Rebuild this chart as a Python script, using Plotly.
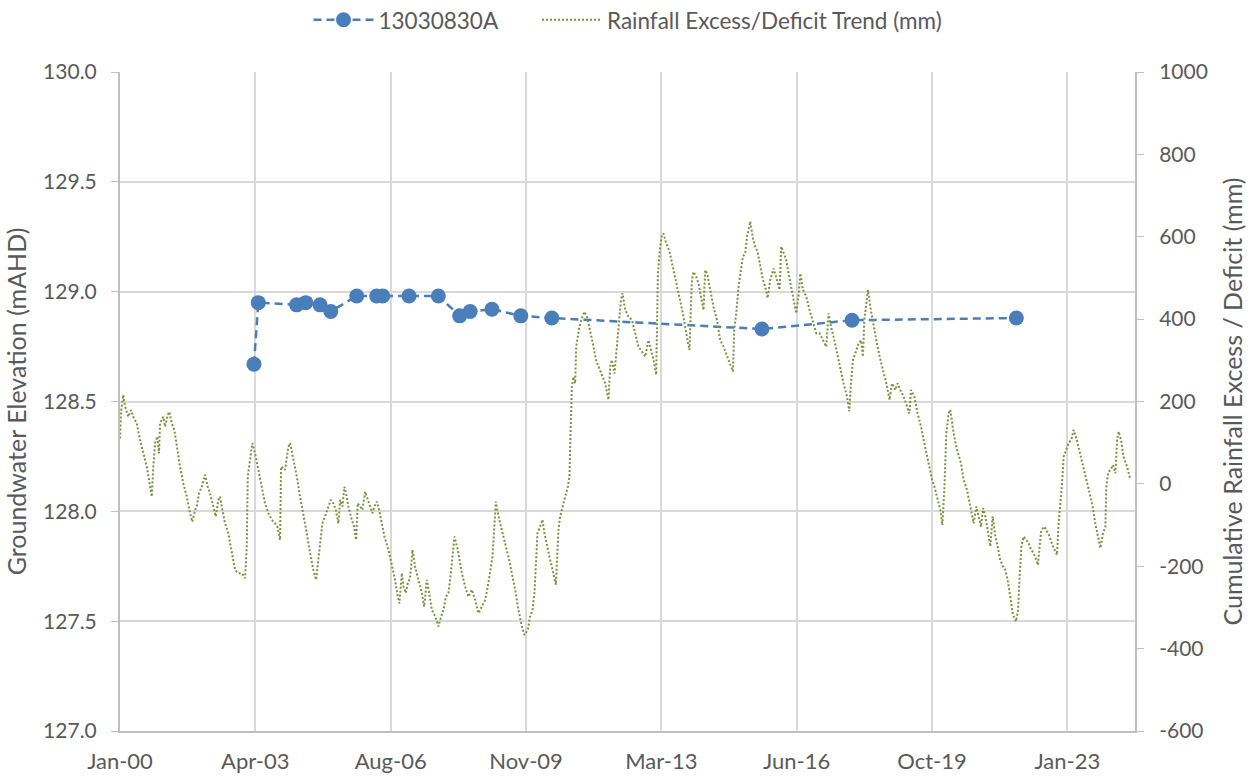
"""
Groundwater elevation vs cumulative rainfall excess/deficit trend.
"""

import numpy as np
import pandas as pd
import plotly.graph_objects as go


THEME = {
    'font_family': "Lato, 'Open Sans', sans-serif",
    'font_color': '#595959',
    'grid_color': '#d9d9d9',
    'axis_color': '#bfbfbf',
    'bore_color': '#4a7ebb',
    'rain_color': '#77933c',
}

# --- bore 13030830A: observation dates and groundwater elevation (mAHD)
bore_dates = [
    '2003-04-16', '2003-05-24', '2004-04-28', '2004-07-18', '2004-11-22',
    '2005-02-25', '2005-10-13', '2006-04-08', '2006-06-01', '2007-01-20',
    '2007-10-07', '2008-04-13', '2008-07-15', '2009-01-24', '2009-10-07',
    '2010-07-09', '2015-08-15', '2017-10-22', '2021-10-18',
]
bore_level = [
    128.67, 128.95, 128.94, 128.95, 128.94,
    128.91, 128.98, 128.98, 128.98, 128.98,
    128.98, 128.89, 128.91, 128.92, 128.89,
    128.88, 128.83, 128.87, 128.88,
]

# --- cumulative rainfall excess/deficit trend (mm), time as decimal year
rain_year = [
    2000.036, 2000.060, 2000.116, 2000.157, 2000.238, 2000.303, 2000.359, 2000.442, 2000.522, 2000.602,
    2000.684, 2000.740, 2000.806, 2000.845, 2000.886, 2000.942, 2000.983, 2001.007, 2001.088, 2001.129,
    2001.194, 2001.233, 2001.292, 2001.355, 2001.413, 2001.493, 2001.573, 2001.656, 2001.736, 2001.792,
    2001.857, 2001.899, 2001.955, 2002.020, 2002.100, 2002.166, 2002.222, 2002.302, 2002.360, 2002.423,
    2002.465, 2002.520, 2002.586, 2002.666, 2002.707, 2002.763, 2002.829, 2002.909, 2002.991, 2003.072,
    2003.113, 2003.137, 2003.193, 2003.249, 2003.314, 2003.395, 2003.477, 2003.557, 2003.637, 2003.720,
    2003.800, 2003.856, 2003.922, 2003.946, 2004.043, 2004.123, 2004.165, 2004.220, 2004.327, 2004.407,
    2004.487, 2004.570, 2004.650, 2004.730, 2004.796, 2004.852, 2004.893, 2004.949, 2005.014, 2005.094,
    2005.153, 2005.216, 2005.274, 2005.337, 2005.379, 2005.435, 2005.483, 2005.524, 2005.580, 2005.663,
    2005.719, 2005.767, 2005.808, 2005.864, 2005.920, 2005.986, 2006.051, 2006.107, 2006.163, 2006.212,
    2006.270, 2006.326, 2006.391, 2006.455, 2006.552, 2006.634, 2006.697, 2006.780, 2006.819, 2006.877,
    2006.916, 2006.974, 2007.023, 2007.079, 2007.135, 2007.200, 2007.280, 2007.363, 2007.419, 2007.484,
    2007.540, 2007.606, 2007.686, 2007.766, 2007.832, 2007.888, 2007.946, 2008.009, 2008.067, 2008.106,
    2008.155, 2008.237, 2008.334, 2008.414, 2008.494, 2008.577, 2008.657, 2008.737, 2008.820, 2008.900,
    2008.966, 2009.021, 2009.077, 2009.119, 2009.160, 2009.223, 2009.306, 2009.386, 2009.466, 2009.548,
    2009.629, 2009.709, 2009.791, 2009.854, 2009.937, 2009.993, 2010.049, 2010.097, 2010.131, 2010.170,
    2010.219, 2010.292, 2010.340, 2010.398, 2010.461, 2010.520, 2010.583, 2010.617, 2010.641, 2010.680,
    2010.721, 2010.777, 2010.843, 2010.908, 2010.947, 2010.964, 2010.989, 2011.006, 2011.045, 2011.086,
    2011.110, 2011.151, 2011.190, 2011.248, 2011.312, 2011.370, 2011.450, 2011.516, 2011.589, 2011.652,
    2011.734, 2011.814, 2011.894, 2011.936, 2011.977, 2012.040, 2012.098, 2012.137, 2012.196, 2012.234,
    2012.300, 2012.380, 2012.463, 2012.543, 2012.623, 2012.706, 2012.786, 2012.866, 2012.924, 2012.988,
    2013.053, 2013.070, 2013.094, 2013.150, 2013.191, 2013.230, 2013.296, 2013.376, 2013.458, 2013.538,
    2013.619, 2013.701, 2013.781, 2013.861, 2013.895, 2013.920, 2013.959, 2014.024, 2014.080, 2014.138,
    2014.201, 2014.242, 2014.298, 2014.364, 2014.444, 2014.527, 2014.607, 2014.687, 2014.753, 2014.833,
    2014.915, 2014.947, 2014.996, 2015.052, 2015.093, 2015.158, 2015.214, 2015.256, 2015.294, 2015.336,
    2015.401, 2015.457, 2015.513, 2015.578, 2015.644, 2015.700, 2015.756, 2015.821, 2015.901, 2015.984,
    2016.047, 2016.088, 2016.144, 2016.209, 2016.265, 2016.348, 2016.404, 2016.452, 2016.508, 2016.550,
    2016.615, 2016.695, 2016.776, 2016.858, 2016.938, 2017.018, 2017.101, 2017.181, 2017.237, 2017.295,
    2017.358, 2017.441, 2017.521, 2017.601, 2017.684, 2017.740, 2017.781, 2017.830, 2017.886, 2017.966,
    2018.024, 2018.073, 2018.104, 2018.153, 2018.194, 2018.250, 2018.316, 2018.396, 2018.476, 2018.559,
    2018.639, 2018.719, 2018.778, 2018.858, 2018.914, 2018.979, 2019.059, 2019.142, 2019.198, 2019.239,
    2019.319, 2019.399, 2019.482, 2019.545, 2019.610, 2019.690, 2019.749, 2019.804, 2019.870, 2019.950,
    2019.999, 2020.047, 2020.096, 2020.152, 2020.193, 2020.273, 2020.356, 2020.453, 2020.516, 2020.599,
    2020.679, 2020.759, 2020.825, 2020.880, 2020.938, 2020.987, 2021.043, 2021.099, 2021.164, 2021.220,
    2021.286, 2021.341, 2021.407, 2021.473, 2021.528, 2021.584, 2021.650, 2021.715, 2021.788, 2021.837,
    2021.875, 2021.917, 2021.973, 2022.038, 2022.094, 2022.152, 2022.215, 2022.281, 2022.322, 2022.361,
    2022.402, 2022.475, 2022.541, 2022.604, 2022.669, 2022.742, 2022.783, 2022.822, 2022.863, 2022.905,
    2022.944, 2023.009, 2023.065, 2023.131, 2023.186, 2023.252, 2023.325, 2023.390, 2023.470, 2023.551,
    2023.633, 2023.713, 2023.779, 2023.835, 2023.900, 2023.956, 2023.980, 2024.022, 2024.078, 2024.143,
    2024.200, 2024.241, 2024.280, 2024.338, 2024.397, 2024.484, 2024.564,
]
rain_mm = [
    110, 175, 216, 188, 163, 179, 163, 147, 107, 74,
    42, 10, -31, 42, 99, 115, 74, 147, 163, 139,
    167, 175, 147, 131, 90, 42, 1, -31, -71, -92,
    -63, -55, -23, -7, 22, -7, -23, -55, -79, -39,
    -31, -63, -96, -120, -144, -177, -209, -217, -217, -229,
    -152, 18, 66, 99, 74, 34, -7, -47, -71, -87,
    -96, -104, -136, 42, 34, 90, 99, 74, 18, -31,
    -71, -120, -168, -209, -233, -185, -144, -96, -79, -55,
    -39, -47, -63, -96, -39, -55, -7, -23, -55, -87,
    -104, -136, -47, -55, -63, -19, -39, -55, -71, -55,
    -43, -63, -96, -128, -160, -193, -225, -274, -290, -217,
    -249, -265, -241, -229, -160, -201, -233, -265, -298, -233,
    -265, -306, -322, -346, -322, -306, -274, -265, -217, -168,
    -128, -160, -217, -249, -274, -257, -282, -314, -298, -282,
    -249, -209, -177, -112, -43, -79, -112, -144, -177, -217,
    -257, -306, -346, -367, -354, -322, -306, -265, -193, -120,
    -108, -87, -120, -152, -177, -201, -225, -245, -193, -112,
    -79, -55, -31, -7, 18, 90, 171, 236, 260, 244,
    333, 357, 382, 402, 418, 406, 374, 341, 301, 285,
    260, 244, 204, 285, 301, 268, 333, 382, 446, 463,
    422, 406, 398, 366, 333, 321, 309, 349, 325, 301,
    265, 398, 511, 576, 604, 608, 584, 564, 527, 495,
    455, 414, 366, 325, 430, 495, 515, 503, 487, 459,
    422, 519, 507, 471, 430, 398, 349, 333, 317, 293,
    273, 374, 414, 479, 511, 552, 560, 600, 616, 637,
    596, 576, 564, 527, 495, 479, 451, 495, 523, 495,
    471, 576, 560, 544, 511, 471, 439, 414, 455, 511,
    471, 455, 422, 390, 366, 366, 349, 333, 414, 382,
    358, 317, 277, 244, 212, 176, 244, 301, 317, 341,
    349, 309, 398, 438, 471, 430, 390, 349, 309, 277,
    244, 204, 244, 228, 244, 228, 212, 188, 171, 228,
    212, 171, 139, 107, 74, 34, 10, -6, -31, -63,
    -100, -15, 123, 171, 180, 123, 82, 50, 10, -15,
    -55, -96, -55, -79, -104, -59, -79, -112, -152, -79,
    -128, -152, -185, -201, -209, -233, -274, -318, -334, -306,
    -225, -152, -128, -136, -144, -160, -168, -185, -197, -152,
    -112, -104, -116, -128, -148, -164, -172, -96, -55, 1,
    66, 82, 99, 107, 131, 111, 82, 50, 18, -7,
    -47, -96, -128, -156, -120, -104, -7, 26, 34, 46,
    26, 107, 127, 107, 66, 42, 10,
]

# --- x axis: Excel-style date axis, one major unit = 1200 days
x_tick_labels = ['Jan-00', 'Apr-03', 'Aug-06', 'Nov-09', 'Mar-13', 'Jun-16', 'Oct-19', 'Jan-23']
x_axis_start = '2000-01-14'
x_major_days = 1200

# --- right axis ticks (plain hyphen minus, as in the source chart)
rain_ticks = [-600, -400, -200, 0, 200, 400, 600, 800, 1000]
rain_tick_labels = ['-600', '-400', '-200', '0', '200', '400', '600', '800', '1000']


def decimal_year_to_date(years):
    years = np.asarray(years, dtype=float)
    return pd.Timestamp('2000-01-01') + pd.to_timedelta((years - 2000.0) * 365.25, unit='D')


def build_figure():
    start = pd.Timestamp(x_axis_start)
    tick_vals = [start + pd.Timedelta(days=k * x_major_days) for k in range(len(x_tick_labels))]
    x_end = start + pd.Timedelta(days=7.5 * x_major_days)

    fig = go.Figure()

    fig.add_trace(go.Scatter(
        x=pd.to_datetime(bore_dates),
        y=bore_level,
        name='13030830A' + '\u00a0' * 6,
        mode='lines+markers',
        line=dict(color=THEME['bore_color'], width=2.5, dash='8px,5px'),
        marker=dict(color=THEME['bore_color'], size=15),
        yaxis='y',
    ))

    fig.add_trace(go.Scatter(
        x=decimal_year_to_date(rain_year),
        y=rain_mm,
        name='Rainfall Excess/Deficit Trend (mm)',
        mode='lines',
        line=dict(color=THEME['rain_color'], width=2, dash='2px,2px'),
        yaxis='y2',
    ))

    x_tick_font = dict(size=22, color=THEME['font_color'])
    y_tick_font = dict(size=21, color=THEME['font_color'])
    title_font = dict(size=25, color=THEME['font_color'])

    fig.update_layout(
        width=1256,
        height=776,
        paper_bgcolor='white',
        plot_bgcolor='white',
        font=dict(family=THEME['font_family'], color=THEME['font_color']),
        margin=dict(l=120, r=121, t=72, b=45, autoexpand=False),
        showlegend=True,
        legend=dict(
            orientation='h',
            x=0.5,
            xanchor='center',
            xref='container',
            y=0.974,
            yanchor='middle',
            yref='container',
            font=dict(size=22.5, color=THEME['font_color']),
            itemwidth=60,
            traceorder='normal',
        ),
        xaxis=dict(
            type='date',
            range=[start, x_end],
            tickmode='array',
            tickvals=tick_vals,
            ticktext=x_tick_labels,
            tickfont=x_tick_font,
            ticklabelstandoff=10,
            showgrid=True,
            gridcolor=THEME['grid_color'],
            gridwidth=2,
            showline=True,
            linecolor=THEME['axis_color'],
            linewidth=2,
            ticks='',
            zeroline=False,
            automargin=False,
        ),
        yaxis=dict(
            title=dict(text='Groundwater Elevation (mAHD)', font=title_font, standoff=9),
            range=[127.0, 130.0],
            dtick=0.5,
            tickformat='.1f',
            tickfont=y_tick_font,
            ticklabelstandoff=10,
            showgrid=True,
            gridcolor=THEME['grid_color'],
            gridwidth=2,
            showline=True,
            linecolor=THEME['axis_color'],
            linewidth=2,
            ticks='outside',
            ticklen=7,
            tickcolor=THEME['axis_color'],
            zeroline=False,
            automargin=False,
        ),
        yaxis2=dict(
            title=dict(text='Cumulative Rainfall Excess / Deficit (mm)', font=title_font, standoff=18),
            range=[-600, 1000],
            tickmode='array',
            tickvals=rain_ticks,
            ticktext=rain_tick_labels,
            tickfont=y_tick_font,
            ticklabelstandoff=11,
            overlaying='y',
            side='right',
            showgrid=False,
            showline=True,
            linecolor=THEME['axis_color'],
            linewidth=2,
            ticks='outside',
            ticklen=7,
            tickcolor=THEME['axis_color'],
            zeroline=False,
            automargin=False,
        ),
    )

    return fig


fig = build_figure()
# drop the default 8px page margin so the figure sits at the window's top-left corner
fig.write_html(
    "out.html",
    config={'displayModeBar': False},
    post_script="document.body.style.margin = '0';",
)
